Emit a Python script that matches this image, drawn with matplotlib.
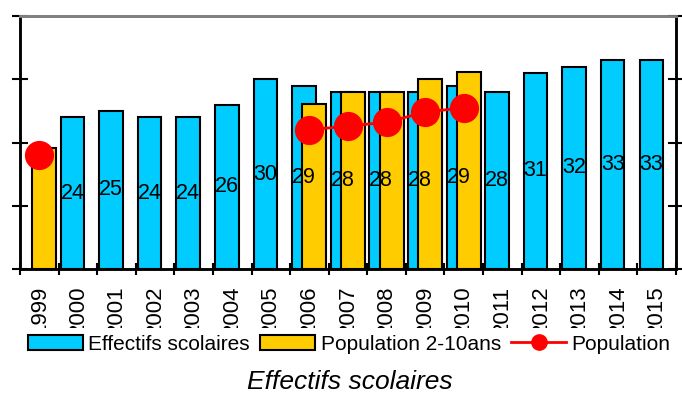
import matplotlib
matplotlib.use("Agg")
import matplotlib.pyplot as plt
import numpy as np
from matplotlib.patches import Patch
from matplotlib.lines import Line2D

plt.rcParams['font.family'] = ['Liberation Sans', 'DejaVu Sans']

years = ['1999', '2000', '2001', '2002', '2003', '2004', '2005', '2006', '2007',
         '2008', '2009', '2010', '2011', '2012', '2013', '2014', '2015']

# Effectifs scolaires (2000-2015)
eff_years = ['2000', '2001', '2002', '2003', '2004', '2005', '2006', '2007',
             '2008', '2009', '2010', '2011', '2012', '2013', '2014', '2015']
eff_values = [24, 25, 24, 24, 26, 30, 29, 28, 28, 28, 29, 28, 31, 32, 33, 33]

# Population 2-10ans and total population (secondary axis)
pop_years = ['1999', '2006', '2007', '2008', '2009', '2010']
pop_2_10 = [19.1, 26.1, 28.0, 28.0, 30.0, 31.1]
population = [18.0, 22.0, 22.6, 23.2, 24.8, 25.5]

CYAN = '#00CCFF'
GOLD = '#FFCC00'
RED = '#FF0000'

fig = plt.figure(figsize=(6.82, 3.95), dpi=100)
ax = fig.add_axes([20 / 682, 1 - 269 / 395, 656 / 682, 253 / 395])
ax2 = ax.twinx()

idx = {y: i for i, y in enumerate(years)}
xe = np.array([idx[y] for y in eff_years])
xp = np.array([idx[y] for y in pop_years])

ax.bar(xe - 0.14, eff_values, width=0.61, color=CYAN, edgecolor='black',
       linewidth=1.5, zorder=2)
ax2.bar(xp + 0.13, pop_2_10, width=0.62, color=GOLD, edgecolor='black',
        linewidth=1.5, zorder=2)

# population line: 1999 stands alone, 2006-2010 are connected
ax2.plot(xp[:1], population[:1], color=RED, marker='o', markersize=20,
         linestyle='none', zorder=3)
ax2.plot(xp[1:], population[1:], color=RED, marker='o', markersize=20,
         linewidth=2, zorder=3)

# value labels centred in the school-enrolment bars
for x, v in zip(xe, eff_values):
    ax2.text(x - 0.14, v / 2, str(v), ha='center', va='center',
             fontsize=15.5, color='black', zorder=5)

ax.set_xlim(-0.5, len(years) - 0.5)
ax.set_ylim(0, 40)
ax2.set_ylim(0, 40)
ax.set_yticks([0, 10, 20, 30, 40])
ax2.set_yticks([0, 10, 20, 30, 40])
ax.set_yticklabels([])
ax2.set_yticklabels([])

ax.set_xticks(np.arange(len(years)))
ax.set_xticklabels(years, rotation=90, fontsize=16, va='top')
ax.set_xticks(np.arange(len(years) + 1) - 0.5, minor=True)
ax.tick_params(axis='x', which='major', length=0, pad=12)
ax.tick_params(axis='x', which='minor', direction='inout', length=9,
               width=1.5)
ax.tick_params(axis='y', direction='inout', length=12, width=1.5)
ax2.tick_params(axis='y', direction='inout', length=12, width=1.5)

for a in (ax, ax2):
    a.spines['top'].set_color('#808080')
    a.spines['top'].set_linewidth(2)
    for s in ('left', 'right', 'bottom'):
        a.spines[s].set_linewidth(1.8)
        a.spines[s].set_color('black')

handles = [Patch(facecolor=CYAN, edgecolor='black', linewidth=1.5),
           Patch(facecolor=GOLD, edgecolor='black', linewidth=1.5),
           Line2D([], [], color=RED, marker='o', markersize=11, linewidth=2)]
labels = ['Effectifs scolaires', 'Population 2-10ans', 'Population']
leg = fig.legend(handles, labels, loc='center',
                 bbox_to_anchor=(0.512, 1 - 344 / 395),
                 ncol=3, fontsize=15, frameon=True, handlelength=2.65,
                 handleheight=0.7, handletextpad=0.25, columnspacing=0.5,
                 borderpad=0.3, borderaxespad=0, fancybox=False)
leg.get_frame().set_facecolor('white')
leg.get_frame().set_edgecolor('none')
leg.get_frame().set_alpha(1)
leg.set_zorder(10)

fig.text(0.513, 1 - 382 / 395, 'Effectifs scolaires', ha='center', va='center',
         fontsize=19, style='italic')

fig.savefig('out.png', dpi=100)
